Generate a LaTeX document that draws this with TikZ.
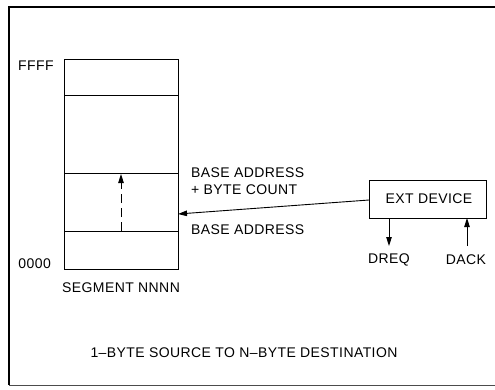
\documentclass[tikz,border=0pt]{standalone}
\usepackage{fontspec}
\setmainfont{Liberation Sans}[LetterSpace=3]
\usetikzlibrary{arrows.meta}
\begin{document}
\begin{tikzpicture}[x=1pt,y=-1pt,
  every node/.style={font=\fontsize{14}{16}\selectfont,inner sep=0pt},
  thinline/.style={line width=0.9pt},
  arr/.style={thinline,-{Triangle[length=9pt,width=5.5pt]}},
  boxstyle/.style={draw,thinline,minimum width=117pt,minimum height=38pt}]
\useasboundingbox (0,0) rectangle (495,389);
% frame
\draw[line width=2.8pt] (9,7) -- (9,385);
\draw[line width=1.8pt] (8,7) -- (495,7);
\draw[line width=1pt,black!70] (9,385) -- (495,385);
% memory segment
\node[draw,thinline,minimum width=114pt,minimum height=210pt,anchor=north west] (mem) at (64,59) {};
\coordinate (d1l) at (64,95); \coordinate (d1r) at (178,95);
\coordinate (d2l) at (64,173); \coordinate (d2r) at (178,173);
\coordinate (d3l) at (64,231); \coordinate (d3r) at (178,231);
\draw[thinline] (d1l) -- (d1r);
\draw[thinline] (d2l) -- (d2r);
\draw[thinline] (d3l) -- (d3r);
\coordinate (dsb) at (121,231); \coordinate (dst) at (121,174);
\draw[arr,dash pattern=on 9pt off 5pt] (dsb) -- (dst);
% labels
\node[anchor=west] (ffff) at (18,66) {FFFF};
\node[anchor=east] (zero) at (51,264) {0000};
\node (seg) at (121,288) {SEGMENT NNNN};
\node[anchor=west] (ba1) at (191,173) {BASE ADDRESS};
\node[anchor=west] (bc) at (191,190) {+ BYTE COUNT};
\node[anchor=west] (ba2) at (191,230) {BASE ADDRESS};
% ext device
\node[boxstyle,anchor=north west] (ext) at (369,180) {};
\node (exttext) at (429,199) {EXT DEVICE};
\coordinate (tip) at (178,214);
\coordinate (src) at (369,200);
\draw[arr] (src) -- (tip);
\coordinate (dreqtop) at (389,218); \coordinate (dreqbot) at (389,246);
\coordinate (dackbot) at (467,246); \coordinate (dacktop) at (467,218);
\draw[arr] (dreqtop) -- (dreqbot);
\draw[arr] (dackbot) -- (dacktop);
\node (dreq) at (389,260) {DREQ};
\node (dack) at (466,260) {DACK};
% caption
\node (cap) at (244,353) {1--BYTE SOURCE TO N--BYTE DESTINATION};
\end{tikzpicture}
\end{document}
